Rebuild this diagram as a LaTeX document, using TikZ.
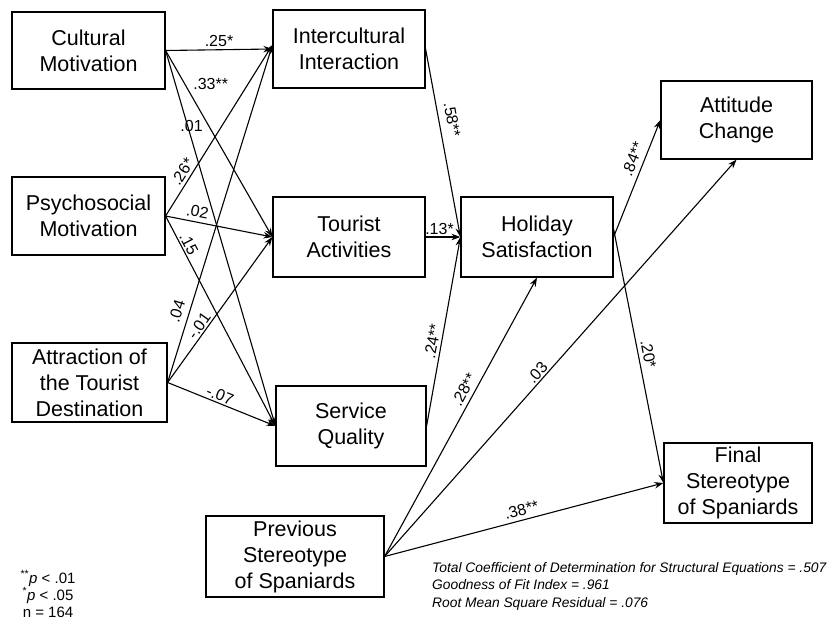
\documentclass[tikz,border=0pt]{standalone}
\usepackage{fontspec}
\setmainfont{Liberation Sans}
\usetikzlibrary{arrows.meta}
\begin{document}
\begin{tikzpicture}[x=1pt,y=-1pt,
  box/.style={draw, line width=1.2pt, inner sep=0pt, align=center,
    font=\fontsize{21.5}{26}\selectfont},
  arr/.style={line width=1.1pt, -{Stealth[length=9pt,width=6.5pt]}},
  lab/.style={font=\fontsize{16}{18}\selectfont, inner sep=1pt},
  sl/.style={sloped, above=#1},
  sl/.default=2pt]
\useasboundingbox (0,0) rectangle (831,624);
% boxes
\node[box, minimum width=153pt, minimum height=77pt] (C) at (88.5,50.5) {Cultural\\Motivation};
\node[box, minimum width=153pt, minimum height=78pt] (Ps) at (88.5,216) {Psychosocial\\Motivation};
\node[box, minimum width=155pt, minimum height=79pt] (At) at (89.5,382.5) {Attraction of\\the Tourist\\Destination};
\node[box, minimum width=152pt, minimum height=78pt] (I) at (349,49) {Intercultural\\Interaction};
\node[box, minimum width=152pt, minimum height=80pt] (T) at (349,237) {Tourist\\Activities};
\node[box, minimum width=150pt, minimum height=80pt] (S) at (351,426) {Service\\Quality};
\node[box, minimum width=152pt, minimum height=80pt] (H) at (537,237) {Holiday\\Satisfaction};
\node[box, minimum width=151pt, minimum height=78pt] (A) at (736.5,120) {Attitude\\Change};
\node[box, minimum width=148pt, minimum height=80pt] (F) at (738,483) {Final\\Stereotype\\of Spaniards};
\node[box, minimum width=178pt, minimum height=81pt] (P) at (295,556.5) {Previous\\Stereotype\\of Spaniards};
% left connectors
\draw[arr] (C.east) -- node[lab, pos=0.5, above=2pt] {.25*} (I.west);
\draw[arr] (C.east) -- node[lab, pos=0.18, right=7pt] {.33**} (T.west);
\draw[arr] (C.east) -- node[lab, pos=0.2, xshift=4pt] {.01} (S.west);
\draw[arr] (Ps.east) -- node[lab, pos=0.23, sl] {.26*} ([yshift=4pt]I.west);
\draw[arr] (Ps.east) -- node[lab, pos=0.28, sl=3pt] {.02} (T.west);
\draw[arr] (Ps.east) -- node[lab, pos=0.15, sl=0.5pt] {.15} (S.west);
\draw[arr] (At.east) -- node[lab, pos=0.2, sl=5pt] {.04} ([yshift=4pt]I.west);
\draw[arr] (At.east) -- node[lab, pos=0.36, sl=0.5pt] {-.01} (T.west);
\draw[arr] (At.east) -- node[lab, pos=0.46, sl=0.5pt] {-.07} (S.west);
% middle connectors
\draw[arr] (I.east) -- node[lab, pos=0.39, sl=6pt] {.58**} (H.west);
\draw[arr] (T.east) -- node[lab, pos=0.4, above=1pt] {.13*} (H.west);
\draw[arr] (S.east) -- node[lab, pos=0.44, sl] {.24**} (H.west);
% right connectors
\draw[arr] (H.east) -- node[lab, pos=0.63, sl=4pt] {.84**} (A.west);
\draw[arr] ([yshift=8pt]H.east) -- node[lab, pos=0.5, sl=3pt] {.20*} (F.west);
\draw[arr] (P.east) -- node[lab, pos=0.58, sl=3pt] {.28**} (H.south);
\draw[arr] (P.east) -- node[lab, pos=0.45, sl=0.5pt] {.03} (A.south);
\draw[arr] (P.east) -- node[lab, pos=0.5, sl=3pt] {.38**} (F.west);
% notes
\node[align=center, inner sep=0pt, font=\fontsize{15}{17}\selectfont] (notes) at (48,594)
  {\textsuperscript{**}\textit{p} < .01\\\textsuperscript{*}\textit{p} < .05\\n = 164};
\node[anchor=north west, align=left, inner sep=0pt, font=\fontsize{13.8}{17.5}\selectfont\itshape] (fit) at (432,562)
  {Total Coefficient of Determination for Structural Equations = .507\\Goodness of Fit Index = .961\\Root Mean Square Residual = .076};
\end{tikzpicture}
\end{document}
